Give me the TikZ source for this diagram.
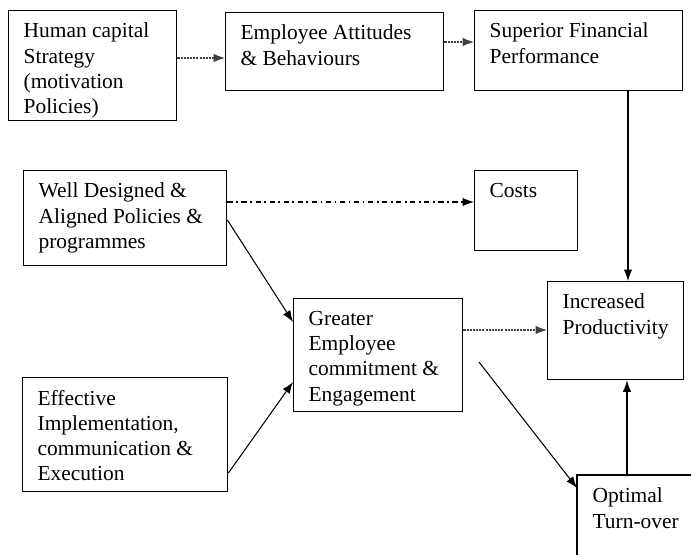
\documentclass[tikz,border=0pt]{standalone}
\usepackage{fontspec}
\setmainfont{Liberation Serif}
\usetikzlibrary{arrows.meta}

\newlength\pxu
\setlength\pxu{0.02cm}
% text block of a box: width, height (in px), text
\newcommand\boxtxt[3]{\parbox[t][\dimexpr#2\pxu-14pt\relax][t]{\dimexpr#1\pxu-17pt\relax}{\raggedright #3}}

\begin{document}
\begin{tikzpicture}[
    x=0.02cm, y=-0.02cm,
    box/.style={draw=black, line width=0.8pt, anchor=north west, inner xsep=8.5pt, inner ysep=7pt,
      font=\fontsize{12.2}{14.4}\selectfont},
    arr/.style={-{Latex[length=2.3mm,width=1.7mm]}, line width=0.6pt, black},
    dotarr/.style={arr, black!75, dash pattern=on 1.2pt off 0.6pt},
    dasharr/.style={arr, dash pattern=on 3pt off 2pt on 1pt off 2pt}
  ]

    \useasboundingbox (0,0) rectangle (691,555);
    \clip (0,0) rectangle (691,555);

    % Top row
    \node[box] (hcs) at (8,10) {\boxtxt{168}{110}{Human capital\\Strategy\\(motivation\\Policies)}};
    \node[box] (attitudes) at (225,12) {\boxtxt{218}{78}{Employee Attitudes\\\& Behaviours}};
    \node[box] (finperf) at (474,10) {\boxtxt{208}{80}{Superior Financial\\Performance}};

    % Middle
    \node[box] (policies) at (23,170) {\boxtxt{203}{95}{Well Designed \&\\Aligned Policies \&\\programmes}};
    \node[box] (costs) at (474,170) {\boxtxt{103}{80}{Costs}};
    \node[box] (commit) at (293,298) {\boxtxt{169}{113}{Greater\\Employee\\commitment \&\\Engagement}};
    \node[box] (product) at (547,281) {\boxtxt{136}{98}{Increased\\Productivity}};

    % Bottom
    \node[box] (execution) at (22,377) {\boxtxt{205}{114}{Effective\\Implementation,\\communication \&\\Execution}};
    % box runs off the page: only its top and left sides show
    \node[box, draw=none] (turnover) at (577,475) {\boxtxt{140}{100}{Optimal\\Turn-over}};
    \draw[line width=0.8pt] (turnover.north east) -- (turnover.north west) -- (turnover.south west);

    % Connectors
    \draw[dotarr] (hcs.east |- 0,58) -- (attitudes.west |- 0,58);
    \draw[dotarr] (attitudes.east |- 0,42) -- (finperf.west |- 0,42);
    \draw[dasharr] (policies.east |- 0,202) -- (costs.west |- 0,202);
    \draw[arr] (628,0 |- finperf.south) -- (628,0 |- product.north);
    \draw[arr] (policies.east |- 0,220) -- (commit.west |- 0,322);
    \draw[arr] (execution.east |- 0,473) -- (commit.west |- 0,382);
    \draw[dotarr] (commit.east |- 0,330) -- (product.west |- 0,330);
    \coordinate (gtstart) at (479,362);
    \draw[arr] (gtstart) -- (turnover.west |- 0,488);
    \draw[arr] (627,0 |- turnover.north) -- (627,0 |- product.south);

  \end{tikzpicture}
\end{document}
